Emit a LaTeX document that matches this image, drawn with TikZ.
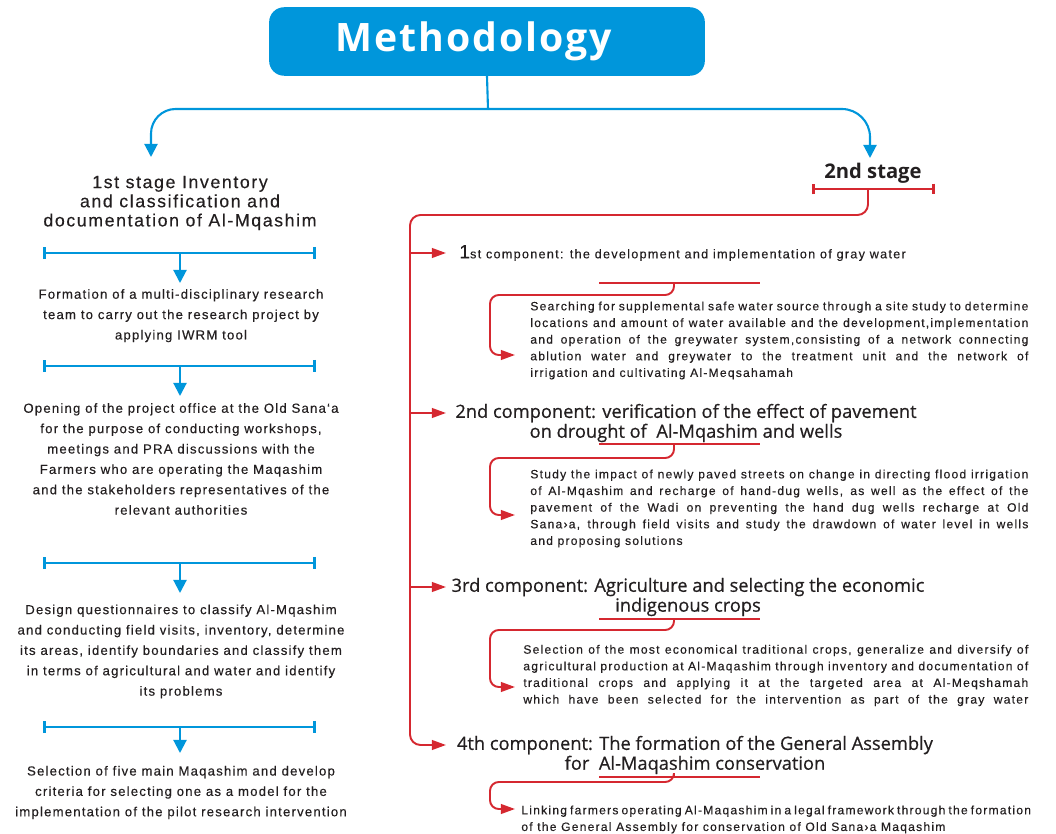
\documentclass[tikz,border=0pt]{standalone}
\usepackage{fontspec}
\setmainfont{Liberation Sans}
\newfontfamily\bodyf[LetterSpace=10,FakeBold=0.3]{Liberation Sans}
\newfontfamily\leftf[LetterSpace=9,FakeBold=0.3]{Liberation Sans}
\newfontfamily\headf[FakeBold=0.6]{Open Sans}
\newfontfamily\stagef{Open Sans}
\newfontfamily\titlef[LetterSpace=5]{Open Sans}
\usetikzlibrary{arrows.meta}
\definecolor{mblue}{RGB}{0,150,219}
\definecolor{mred}{RGB}{213,40,48}
\definecolor{txt}{RGB}{35,31,32}
\newcommand\jl[2]{\makebox[#1][s]{#2}}
\begin{document}
\begin{tikzpicture}[x=0.02cm,y=-0.02cm,
  bluec/.style={draw=mblue,line width=1.2pt},
  bluearr/.style={bluec,-{Triangle[length=7.5pt,width=7.5pt]}},
  bluebar/.style={draw=mblue,line width=1.7pt,{Bar[width=7pt]}-{Bar[width=7pt]}},
  redc/.style={draw=mred,line width=1.1pt},
  redarr/.style={redc,-{Triangle[length=8pt,width=5.5pt]}},
  redbar/.style={draw=mred,line width=1.6pt},
  redtick/.style={redbar,{Bar[width=6pt]}-{Bar[width=6pt]}},
  lefttext/.style={align=center,text=txt,font=\leftf\fontsize{7.5}{11.6}\selectfont,inner sep=0pt},
  bodytext/.style={align=left,text=txt,font=\bodyf\fontsize{6.9}{9.47}\selectfont,inner sep=0pt,anchor=west},
  comphead/.style={align=center,text=txt,font=\headf\fontsize{10.4}{11.3}\selectfont,inner sep=0pt},
]
\useasboundingbox (0,0) rectangle (1056,834);

% title
\node[fill=mblue,rounded corners=8.5pt,minimum width=248pt,minimum height=39pt,inner sep=0pt,
      text=white,font=\titlef\bfseries\fontsize{22.3}{24}\selectfont] (title) at (487,41.5) {Methodology\hspace*{14.7pt}};
\coordinate (J) at (488,109);
\coordinate (lt) at (151,157);
\coordinate (rt) at (870,158);
\draw[bluec] (title.south) -- (J);
\draw[bluearr,rounded corners=14pt] (J) -| (lt);
\draw[bluearr,rounded corners=16pt] (J) -| (rt);

% stage 1
\node[align=center,text=txt,font=\leftf\fontsize{10.1}{10.9}\selectfont,inner sep=0pt] (st1) at (180,203)
  {1st stage Inventory\\and classification and\\documentation of Al-Mqashim};

% left column
\node[lefttext] (l1) at (181,315.7) {Formation of a multi-disciplinary research\\team to carry out the research project by\\applying IWRM tool};
\node[lefttext] (l2) at (181,459) {Opening of the project office at the Old Sana‘a\\for the purpose of conducting workshops,\\meetings and PRA discussions with the\\Farmers who are operating the Maqashim\\and the stakeholders representatives of the\\relevant authorities};
\node[lefttext] (l3) at (181,651.5) {Design questionnaires to classify Al-Mqashim\\and conducting field visits, inventory, determine\\its areas, identify boundaries and classify them\\in terms of agricultural and water and identify\\its problems};
\node[lefttext] (l4) at (181,792.5) {Selection of five main Maqashim and develop\\criteria for selecting one as a model for the\\implementation of the pilot research intervention};

\foreach \n/\y/\t in {1/253/283,2/366/396,3/563/593,4/727/753}{
  \coordinate (bl\n) at (43,\y);
  \coordinate (br\n) at (316,\y);
  \coordinate (bm\n) at (180,\y);
  \coordinate (bt\n) at (180,\t);
  \draw[bluebar] (bl\n) -- (br\n);
  \draw[bluearr] (bm\n) -- (bt\n);
}

% stage 2
\node[text=txt,font=\stagef\bfseries\fontsize{11.5}{12}\selectfont,inner sep=0pt] (st2) at (873,173) {2nd stage};
\coordinate (s2l) at (812,189);
\coordinate (s2r) at (935,189);
\coordinate (s2m) at (868,189);
\draw[redtick] (s2l) -- (s2r);
\coordinate (m1) at (410,253);
\coordinate (m2) at (410,413);
\coordinate (m3) at (410,587);
\coordinate (h1t) at (446,253);
\coordinate (h2t) at (446,413);
\coordinate (h3t) at (446,587);
\coordinate (h4t) at (446,745);
\draw[redarr,rounded corners=6pt] (s2m) |- (410,215) |- (h4t);
\draw[redarr] (m1) -- (h1t);
\draw[redarr] (m2) -- (h2t);
\draw[redarr] (m3) -- (h3t);

% component headings
\node[anchor=west,text=txt,font=\bodyf\fontsize{7.2}{9}\selectfont,inner sep=0pt] (h1) at (459,253)
  {{\fontsize{11}{11}\selectfont 1}st component: the development and implementation of gray water};
\node[comphead] (h2) at (686,423) {2nd component: verification of the effect of pavement\\on drought of\ \ Al-Mqashim and wells};
\node[comphead] (h3) at (688,597) {3rd component: Agriculture and selecting the economic\\indigenous crops};
\node[comphead] (h4) at (695,755) {4th component: The formation of the General Assembly\\for\ \ Al-Maqashim conservation};

% body texts
\node[bodytext] (b1) at (530,340.5) {%
\jl{283.5pt}{Searching for supplemental safe water source through a site study to determine}\\
\jl{283.5pt}{locations and amount of water available and the development,implementation}\\
\jl{283.5pt}{and operation of the greywater system,consisting of a network connecting}\\
\jl{283.5pt}{ablution water and greywater to the treatment unit and the network of}\\
irrigation and cultivating Al-Meqsahamah};
\node[bodytext] (b2) at (530,508.5) {%
\jl{283.5pt}{Study the impact of newly paved streets on change in directing flood irrigation}\\
\jl{283.5pt}{of Al-Mqashim and recharge of hand-dug wells, as well as the effect of the}\\
\jl{283.5pt}{pavement of the Wadi on preventing the hand dug wells recharge at Old}\\
\jl{283.5pt}{Sana›a, through field visits and study the drawdown of water level in wells}\\
and proposing solutions};
\node[bodytext] (b3) at (523,675.5) {%
\jl{287.4pt}{Selection of the most economical traditional crops, generalize and diversify of}\\
\jl{287.4pt}{agricultural production at Al-Maqashim through inventory and documentation of}\\
\jl{287.4pt}{traditional crops and applying it at the targeted area at Al-Meqshamah}\\
\jl{287.4pt}{which have been selected for the intervention as part of the gray water}};
\node[bodytext] (b4) at (521,819.5) {%
\jl{289.7pt}{Linking farmers operating Al-Maqashim in a legal framework through the formation}\\
of the General Assembly for conservation of Old Sana›a Maqashim};

% underline bars and connectors
\foreach \n/\b/\h/\a in {1/283/295/355,2/444/458/515,3/619/630/687,4/777/782/809}{
  \coordinate (ul\n) at (599,\b);
  \coordinate (ur\n) at (760,\b);
  \coordinate (um\n) at (674,\b);
  \coordinate (ut\n) at (515,\a);
  \draw[redbar] (ul\n) -- (ur\n);
  \draw[redarr,rounded corners=5pt] (um\n) |- (490,\h) |- (ut\n);
}
\end{tikzpicture}
\end{document}
